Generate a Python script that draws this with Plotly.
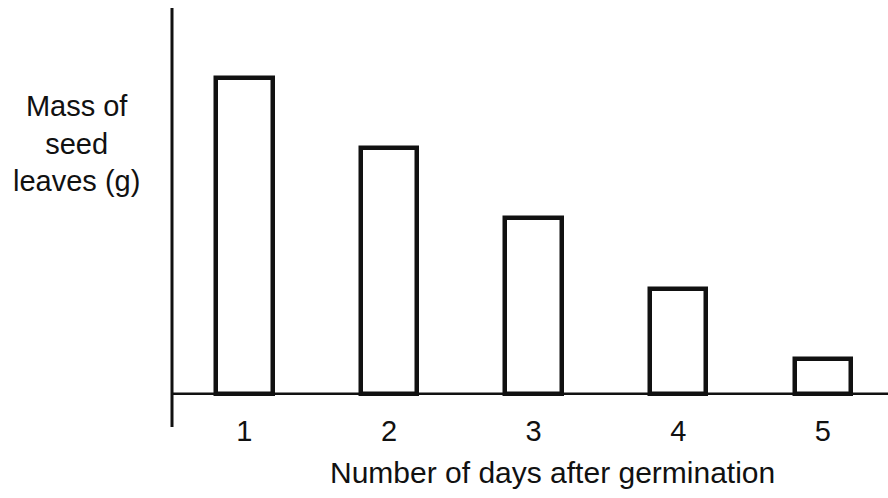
import plotly.graph_objects as go

# Days after germination and the relative mass of the seed leaves
days = [1, 2, 3, 4, 5]
day_labels = ["1", "2", "3", "4", "5"]
leaf_mass = [9, 7, 5, 3, 1]

fig = go.Figure()

fig.add_trace(go.Bar(
    x=days,
    y=leaf_mass,
    width=0.39,
    marker=dict(color="white", line=dict(color="#111111", width=4.5)),
    showlegend=False,
))

# Horizontal baseline along y = 0 that runs out to the right edge
fig.add_shape(type="line", xref="x", yref="y",
              x0=0.5, x1=5.45, y0=0, y1=0,
              line=dict(color="#111111", width=2.5), layer="above")

# Vertical axis line, extending a little below the baseline
fig.add_shape(type="line", xref="paper", yref="paper",
              x0=0, x1=0, y0=-0.04, y1=1,
              line=dict(color="#111111", width=3), layer="above")

font = dict(family="Liberation Sans, Arial, sans-serif", size=29, color="#111111")

fig.update_layout(
    width=888, height=498,
    margin=dict(l=172, r=0, t=8, b=87),
    paper_bgcolor="white", plot_bgcolor="white",
    bargap=0,
    font=font,
    xaxis=dict(
        range=[0.5, 5.45],
        tickmode="array", tickvals=days, ticktext=day_labels,
        showline=False, showgrid=False, zeroline=False,
        ticks="", ticklen=0,
        tickfont=dict(size=29),
    ),
    yaxis=dict(
        range=[-0.49, 11],
        showline=False, showgrid=False, zeroline=False,
        showticklabels=False, ticks="",
    ),
    annotations=[
        dict(
            text="Mass of<br>seed<br>leaves (g)",
            xref="paper", yref="paper",
            x=-0.134, y=0.665, xanchor="center", yanchor="middle",
            showarrow=False, align="center",
            font=dict(size=29),
        ),
        dict(
            text="Number of days after germination",
            xref="paper", yref="paper",
            x=0.532, y=-0.152, xanchor="center", yanchor="middle",
            showarrow=False,
            font=dict(size=30),
        ),
    ],
)

fig.write_html("out.html")
